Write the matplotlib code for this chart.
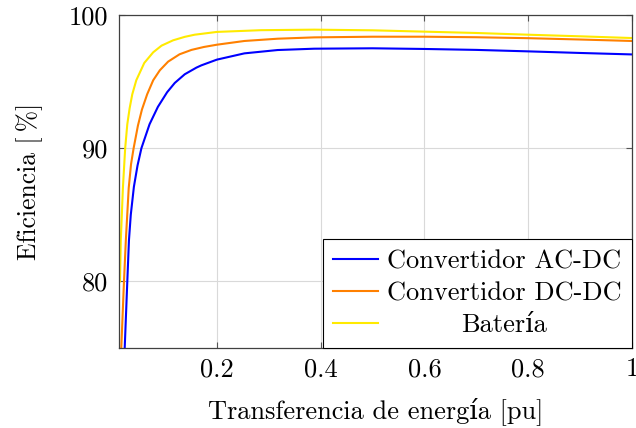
import matplotlib
matplotlib.use("Agg")
import matplotlib.pyplot as plt

# ---- data ----
x_acdc = [0.0223, 0.0273, 0.0305, 0.0340, 0.040, 0.047, 0.0545, 0.0702, 0.0862, 0.104,
          0.1188, 0.138, 0.1605, 0.170, 0.200, 0.253, 0.317, 0.3875, 0.50, 0.60,
          0.70, 0.80, 0.90, 1.00]
y_acdc = [75.0, 80.0, 83.1, 85.0, 87.1, 88.7, 90.0, 91.8, 93.1, 94.2,
          94.9, 95.55, 96.05, 96.22, 96.65, 97.12, 97.37, 97.47, 97.5, 97.45,
          97.38, 97.27, 97.15, 97.04]

x_dcdc = [0.0157, 0.0209, 0.0245, 0.030, 0.0345, 0.0395, 0.0478, 0.0555, 0.0656, 0.0772,
          0.090, 0.106, 0.128, 0.151, 0.175, 0.200, 0.253, 0.317, 0.3875, 0.50,
          0.60, 0.70, 0.80, 0.90, 1.00]
y_dcdc = [75.0, 80.0, 83.1, 87.0, 88.8, 90.0, 91.7, 92.9, 94.05, 95.1,
          95.85, 96.5, 97.05, 97.38, 97.6, 97.77, 98.05, 98.22, 98.32, 98.37,
          98.37, 98.33, 98.26, 98.16, 98.05]

x_bat = [0.0132, 0.0148, 0.0188, 0.0232, 0.0273, 0.0318, 0.0369, 0.0446, 0.060, 0.0772,
         0.0933, 0.1156, 0.138, 0.157, 0.200, 0.285, 0.3875, 0.50, 0.60, 0.70,
         0.80, 0.90, 1.00]
y_bat = [80.0, 83.1, 87.0, 90.0, 91.8, 93.0, 94.05, 95.1, 96.4, 97.2,
         97.7, 98.1, 98.36, 98.52, 98.73, 98.86, 98.9, 98.85, 98.75, 98.65,
         98.52, 98.4, 98.27]

labels = ["Convertidor AC-DC", "Convertidor DC-DC", "Batería"]
colors = ["#0000ff", "#ff8000", "#ffea00"]

x_ticks = [0.2, 0.4, 0.6, 0.8, 1.0]
x_ticklabels = ["0.2", "0.4", "0.6", "0.8", "1"]
y_ticks = [80, 90, 100]
y_ticklabels = ["80", "90", "100"]

plt.rcParams['font.family'] = ['cmr10', 'DejaVu Serif']
plt.rcParams['axes.formatter.use_mathtext'] = True

fig = plt.figure(figsize=(6.36, 4.28), dpi=100)
ax = fig.add_axes([119/636, 80/428, 513/636, 333/428])

for xs, ys, lab, c in zip([x_acdc, x_dcdc, x_bat], [y_acdc, y_dcdc, y_bat], labels, colors):
    ax.plot(xs, ys, color=c, lw=1.5, label=lab, solid_joinstyle='round')

ax.set_xlim(0.0113, 1.0)
ax.set_ylim(75, 100)
ax.set_xticks(x_ticks)
ax.set_xticklabels(x_ticklabels)
ax.set_yticks(y_ticks)
ax.set_yticklabels(y_ticklabels)
ax.grid(True, color='#d9d9d9', lw=0.8)
ax.set_axisbelow(True)
ax.tick_params(direction='in', length=4, width=0.8, color='#555555',
               top=True, right=True, labelsize=19)
ax.tick_params(axis='x', pad=7)
ax.tick_params(axis='y', pad=7.5)
for s in ax.spines.values():
    s.set_color('#404040')
    s.set_linewidth(0.9)

ax.set_xlabel("Transferencia de energía [pu]", fontsize=19, labelpad=11)
ax.set_ylabel("Eficiencia [\u2009%]", fontsize=18.5, labelpad=19)

leg = ax.legend(loc='lower right', fontsize=19, frameon=True, fancybox=False,
                edgecolor='black', framealpha=1, borderaxespad=0,
                handlelength=1.7, handletextpad=0.33, borderpad=0.4,
                labelspacing=0.32)
leg.get_frame().set_linewidth(0.8)

# center the shorter legend entries like the reference
fig.canvas.draw()
r = fig.canvas.get_renderer()
texts = leg.get_texts()
widths = [t.get_window_extent(r).width for t in texts]
wmax = max(widths)
for t, w in zip(texts, widths):
    t.set_x((wmax - w) / 2)

fig.savefig("out.png", dpi=100)
